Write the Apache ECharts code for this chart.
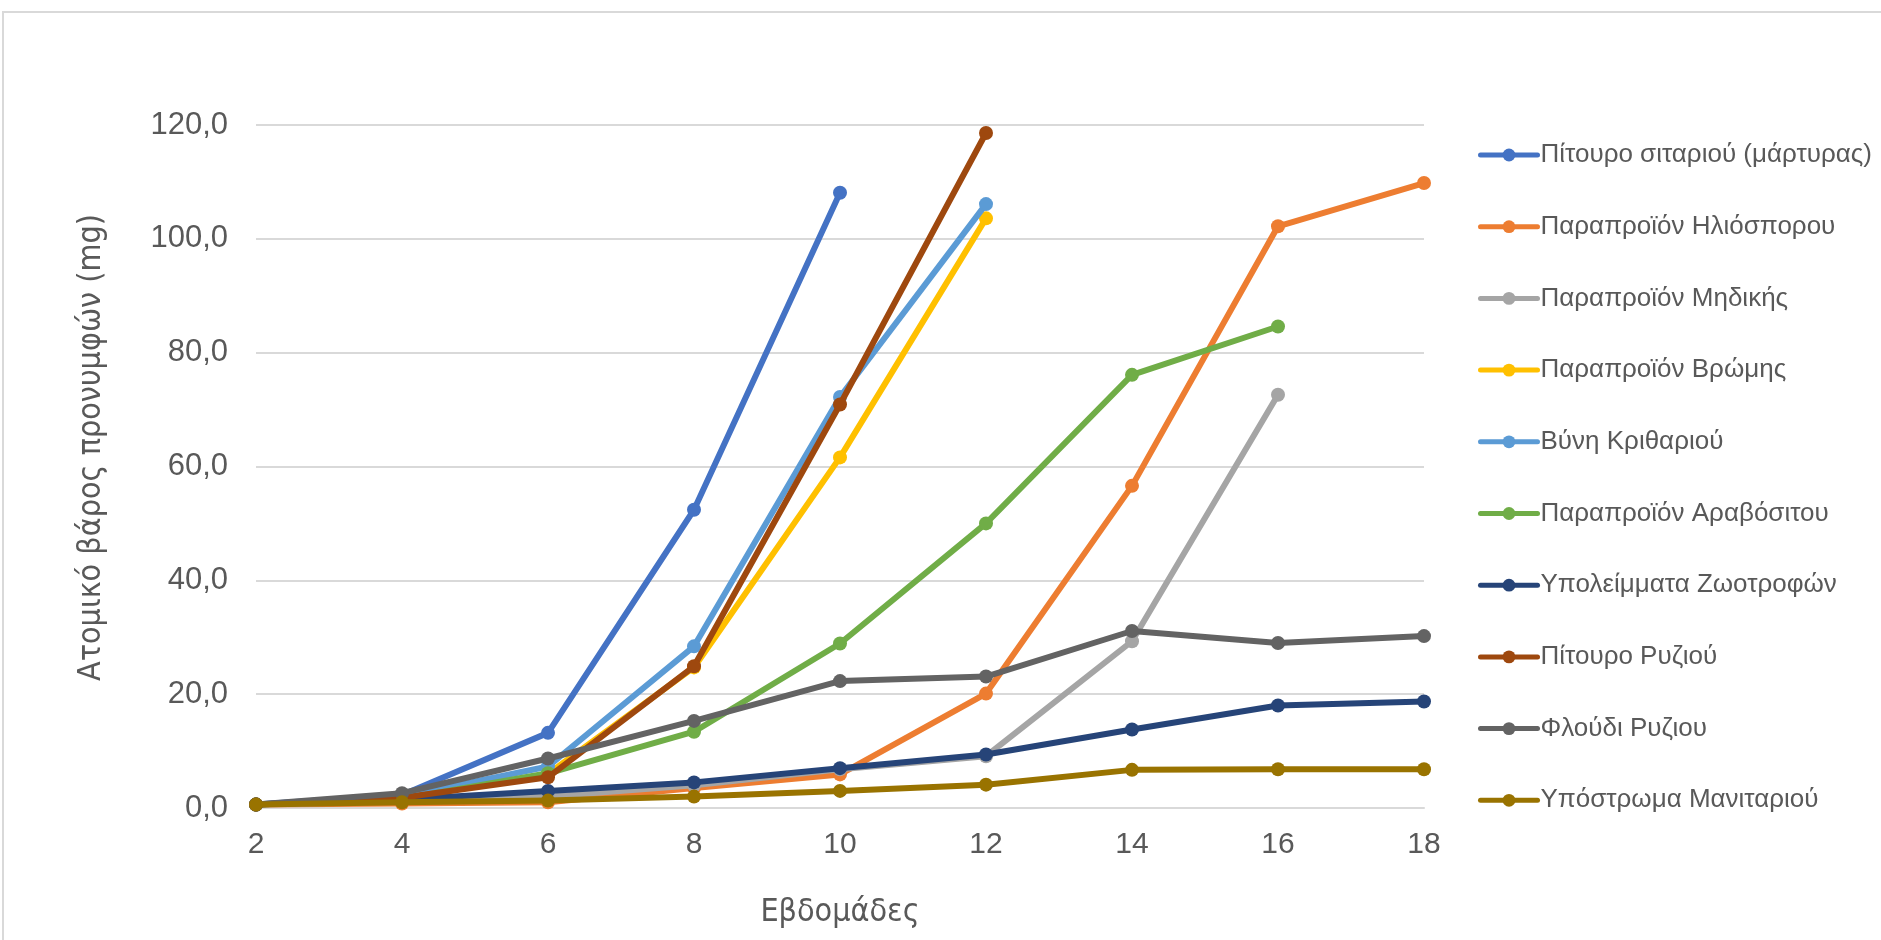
<!DOCTYPE html>
<html>
<head>
<meta charset="utf-8">
<script src="https://cdn.jsdelivr.net/npm/echarts@6/dist/echarts.min.js"></script>
<style>
  html, body { margin: 0; padding: 0; background: #ffffff; }
  #chart { width: 1881px; height: 940px; }
</style>
</head>
<body>
<div id="chart"></div>
<script>
// Weeks of rearing (x axis categories)
const weeks = ['2', '4', '6', '8', '10', '12', '14', '16', '18'];

// Individual larval weight (mg) per substrate
const wheatBran      = [0.6, 2.3, 13.2, 52.4, 108.1];
const sunflowerBy    = [0.6, 0.8, 1.0, 3.5, 5.9, 20.1, 56.6, 102.2, 109.8];
const alfalfaBy      = [0.6, 1.2, 2.0, 4.0, 6.8, 9.1, 29.3, 72.6];
const oatBy          = [0.6, 1.6, 6.0, 24.7, 61.6, 103.6];
const barleyMalt     = [0.6, 2.0, 7.3, 28.4, 72.2, 106.1];
const cornBy         = [0.6, 1.6, 6.1, 13.4, 28.9, 50.0, 76.1, 84.6];
const feedResidues   = [0.6, 1.5, 3.0, 4.5, 7.0, 9.4, 13.8, 18.0, 18.7];
const riceBran       = [0.6, 1.8, 5.4, 24.9, 70.9, 118.6];
const riceHusk       = [0.6, 2.6, 8.7, 15.3, 22.3, 23.1, 31.1, 29.0, 30.2];
const mushroomSub    = [0.6, 1.0, 1.3, 2.0, 3.0, 4.1, 6.7, 6.8, 6.8];

const seriesNames = [
  'Πίτουρο σιταριού (μάρτυρας)',
  'Παραπροϊόν Ηλιόσπορου',
  'Παραπροϊόν Μηδικής',
  'Παραπροϊόν Βρώμης',
  'Βύνη Κριθαριού',
  'Παραπροϊόν Αραβόσιτου',
  'Υπολείμματα Ζωοτροφών',
  'Πίτουρο Ρυζιού',
  'Φλούδι Ρυζιου',
  'Υπόστρωμα Μανιταριού'
];
const seriesData = [wheatBran, sunflowerBy, alfalfaBy, oatBy, barleyMalt, cornBy,
                    feedResidues, riceBran, riceHusk, mushroomSub];
const seriesColors = ['#4472C4', '#ED7D31', '#A5A5A5', '#FFC000', '#5B9BD5',
                      '#70AD47', '#264478', '#9E480E', '#636363', '#997300'];

const yTicks = { min: 0, max: 120, step: 20 };

const chart = echarts.init(document.getElementById('chart'), null, { renderer: 'canvas' });

const textColor = '#595959';
const bodyFont = "'Liberation Sans', Arial, sans-serif";
const titleFont = "'DejaVu Sans Condensed', 'Liberation Sans', sans-serif";

chart.setOption({
  animation: false,
  backgroundColor: '#ffffff',
  graphic: [{
    type: 'rect',
    shape: { x: 3, y: 12, width: 1900, height: 1000 },
    style: { fill: 'none', stroke: '#d9d9d9', lineWidth: 2 },
    silent: true
  }],
  grid: { left: 256, right: 457, top: 125, bottom: 132 },
  legend: {
    orient: 'vertical',
    left: 1473,
    top: 137,
    itemWidth: 57,
    itemHeight: 16,
    itemGap: 45.7,
    lineStyle: { width: 5 },
    textStyle: { color: textColor, fontSize: 26, fontFamily: bodyFont, padding: [0, 0, 0, -2] },
    data: seriesNames
  },
  xAxis: {
    type: 'category',
    data: weeks,
    boundaryGap: false,
    axisLine: { show: true, lineStyle: { color: '#d9d9d9', width: 2 } },
    axisTick: { show: false },
    axisLabel: { color: textColor, fontSize: 30, fontFamily: bodyFont, margin: 22 },
    name: 'Εβδομάδες',
    nameLocation: 'middle',
    nameGap: 89,
    nameTextStyle: { color: textColor, fontSize: 32, fontFamily: titleFont }
  },
  yAxis: {
    type: 'value',
    min: yTicks.min,
    max: yTicks.max,
    interval: yTicks.step,
    axisLine: { show: false },
    axisTick: { show: false },
    splitLine: { lineStyle: { color: '#d9d9d9', width: 2 } },
    axisLabel: {
      color: textColor, fontSize: 31, fontFamily: bodyFont, margin: 28,
      formatter: v => v.toFixed(1).replace('.', ',')
    },
    name: 'Ατομικό βάρος προνυμφών (mg)',
    nameLocation: 'middle',
    nameGap: 148,
    nameTextStyle: { color: textColor, fontSize: 32, fontFamily: titleFont, padding: [0, 0, 0, 38] }
  },
  series: seriesNames.map((name, i) => ({
    name: name,
    type: 'line',
    data: seriesData[i],
    symbol: 'circle',
    symbolSize: 14,
    showSymbol: true,
    lineStyle: { width: 6, color: seriesColors[i], cap: 'round', join: 'round' },
    itemStyle: { color: seriesColors[i] },
    z: 2 + i
  }))
});
</script>
</body>
</html>
